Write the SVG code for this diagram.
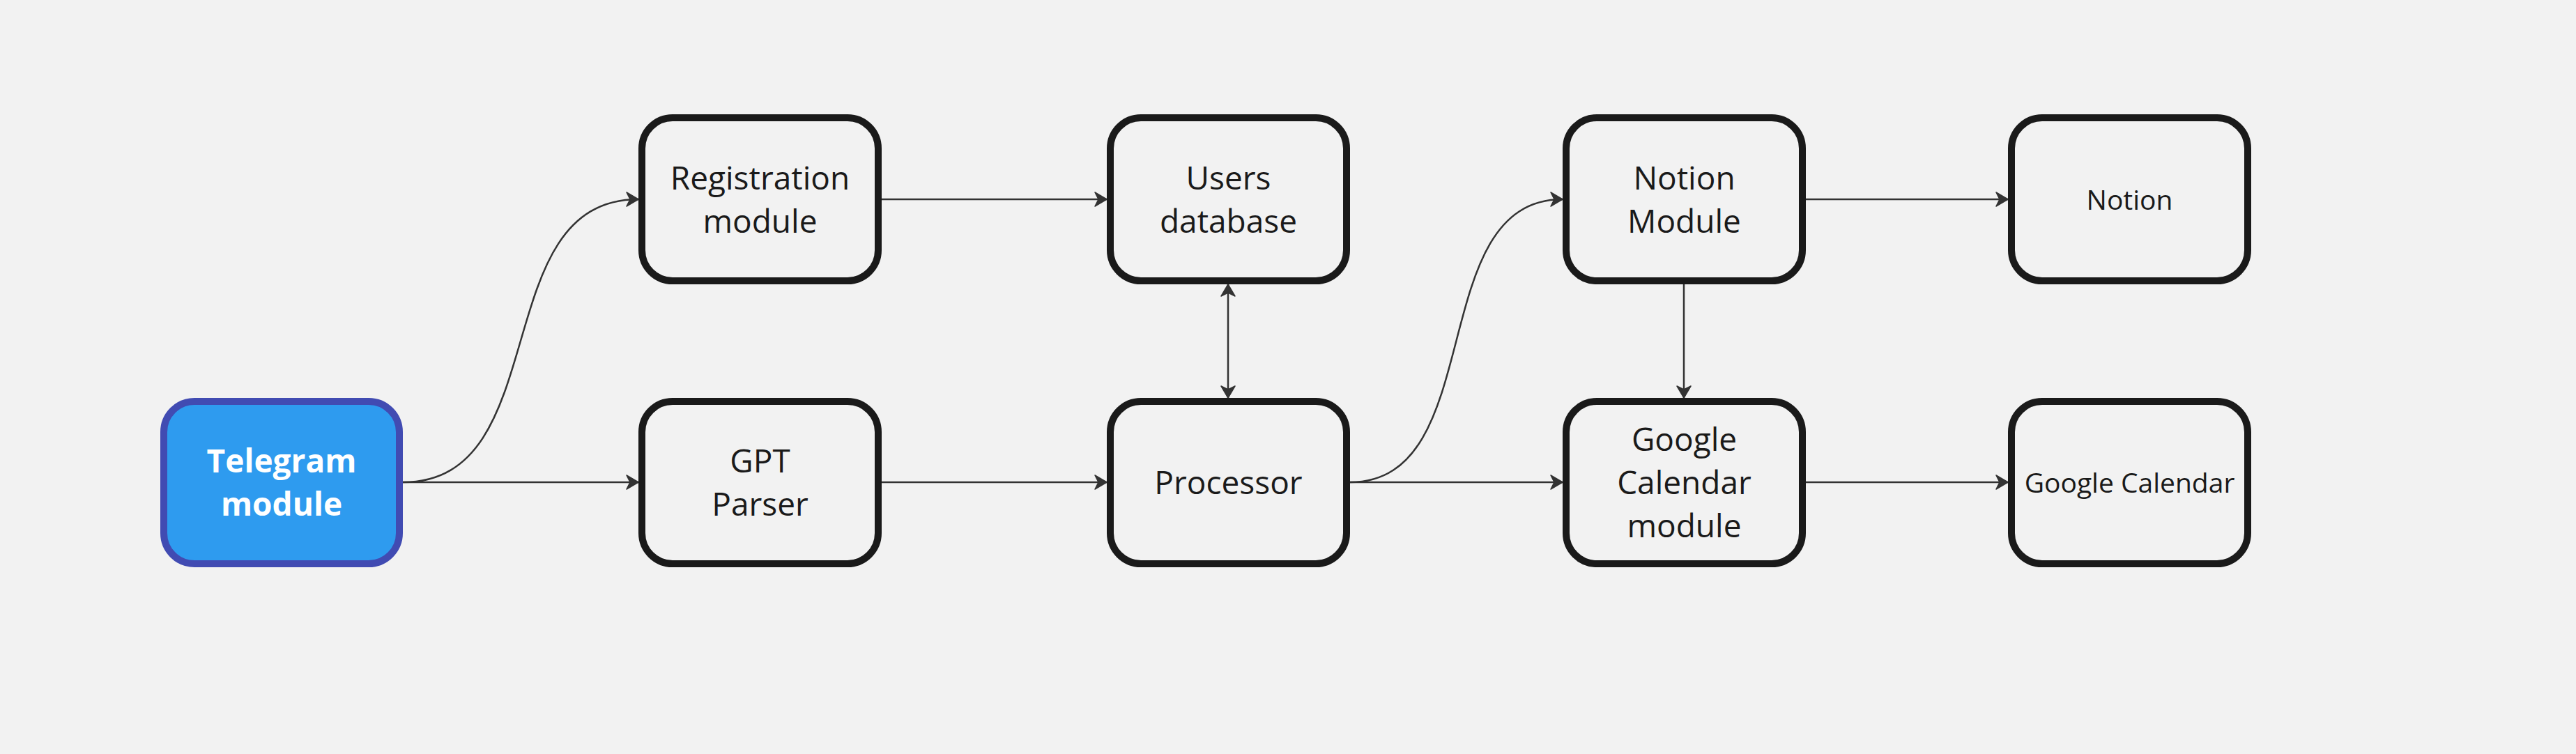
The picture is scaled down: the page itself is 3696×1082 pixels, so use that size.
<svg xmlns="http://www.w3.org/2000/svg" width="3696" height="1082" viewBox="0 0 3696 1082">
<style>
.box{fill:#f2f2f2;stroke:#1a1a1a;stroke-width:10}
.tg{fill:#2e9bef;stroke:#414bb2;stroke-width:10}
.t{font-family:"Open Sans","Noto Sans","DejaVu Sans",sans-serif;font-size:46px;fill:#1a1a1a;text-anchor:middle}
.s{font-size:39px}
.w{fill:#ffffff;font-weight:bold}
.c{fill:none;stroke:#333333;stroke-width:2.5}
</style>
<defs>
<marker id="ah" markerUnits="userSpaceOnUse" markerWidth="24" markerHeight="24" viewBox="-20 -12 22 24" refX="0" refY="0" orient="auto-start-reverse">
<path d="M0,0 L-17,-10 L-12,0 L-17,10 Z" fill="#333333" stroke="#333333" stroke-width="1.5" stroke-linejoin="round"/>
</marker>
</defs>
<rect width="3696" height="1082" fill="#f2f2f2"/>
<g id="connectors">
<path class="c" d="M578,692 L916,692" marker-end="url(#ah)"/>
<path class="c" d="M578,692 C798,692 696,286 916,286" marker-end="url(#ah)"/>
<path class="c" d="M1265,286 L1588,286" marker-end="url(#ah)"/>
<path class="c" d="M1265,692 L1588,692" marker-end="url(#ah)"/>
<path class="c" d="M1762,408 L1762,571" marker-start="url(#ah)" marker-end="url(#ah)"/>
<path class="c" d="M1937,692 L2242,692" marker-end="url(#ah)"/>
<path class="c" d="M1937,692 C2137,692 2042,286 2242,286" marker-end="url(#ah)"/>
<path class="c" d="M2591,286 L2881,286" marker-end="url(#ah)"/>
<path class="c" d="M2416,408 L2416,571" marker-end="url(#ah)"/>
<path class="c" d="M2591,692 L2881,692" marker-end="url(#ah)"/>
</g>
<g id="telegram">
<rect class="tg" x="235" y="576" width="338" height="233" rx="44"/>
<text class="t w" x="404" y="678">Telegram</text>
<text class="t w" x="404" y="740">module</text>
</g>
<g id="registration">
<rect class="box" x="921" y="169" width="339" height="234" rx="44"/>
<text class="t" x="1090.5" y="272">Registration</text>
<text class="t" x="1090.5" y="334">module</text>
</g>
<g id="gpt">
<rect class="box" x="921" y="576" width="339" height="233" rx="44"/>
<text class="t" x="1090.5" y="678">GPT</text>
<text class="t" x="1090.5" y="740">Parser</text>
</g>
<g id="users">
<rect class="box" x="1593" y="169" width="339" height="234" rx="44"/>
<text class="t" x="1762.5" y="272">Users</text>
<text class="t" x="1762.5" y="334">database</text>
</g>
<g id="processor">
<rect class="box" x="1593" y="576" width="339" height="233" rx="44"/>
<text class="t" x="1762.5" y="709">Processor</text>
</g>
<g id="notion-module">
<rect class="box" x="2247" y="169" width="339" height="234" rx="44"/>
<text class="t" x="2416.5" y="272">Notion</text>
<text class="t" x="2416.5" y="334">Module</text>
</g>
<g id="gcal-module">
<rect class="box" x="2247" y="576" width="339" height="233" rx="44"/>
<text class="t" x="2416.5" y="647">Google</text>
<text class="t" x="2416.5" y="709">Calendar</text>
<text class="t" x="2416.5" y="771">module</text>
</g>
<g id="notion">
<rect class="box" x="2886" y="169" width="339" height="234" rx="44"/>
<text class="t s" x="3055.5" y="301">Notion</text>
</g>
<g id="gcal">
<rect class="box" x="2886" y="576" width="339" height="233" rx="44"/>
<text class="t s" x="3055.5" y="707">Google Calendar</text>
</g>
</svg>
